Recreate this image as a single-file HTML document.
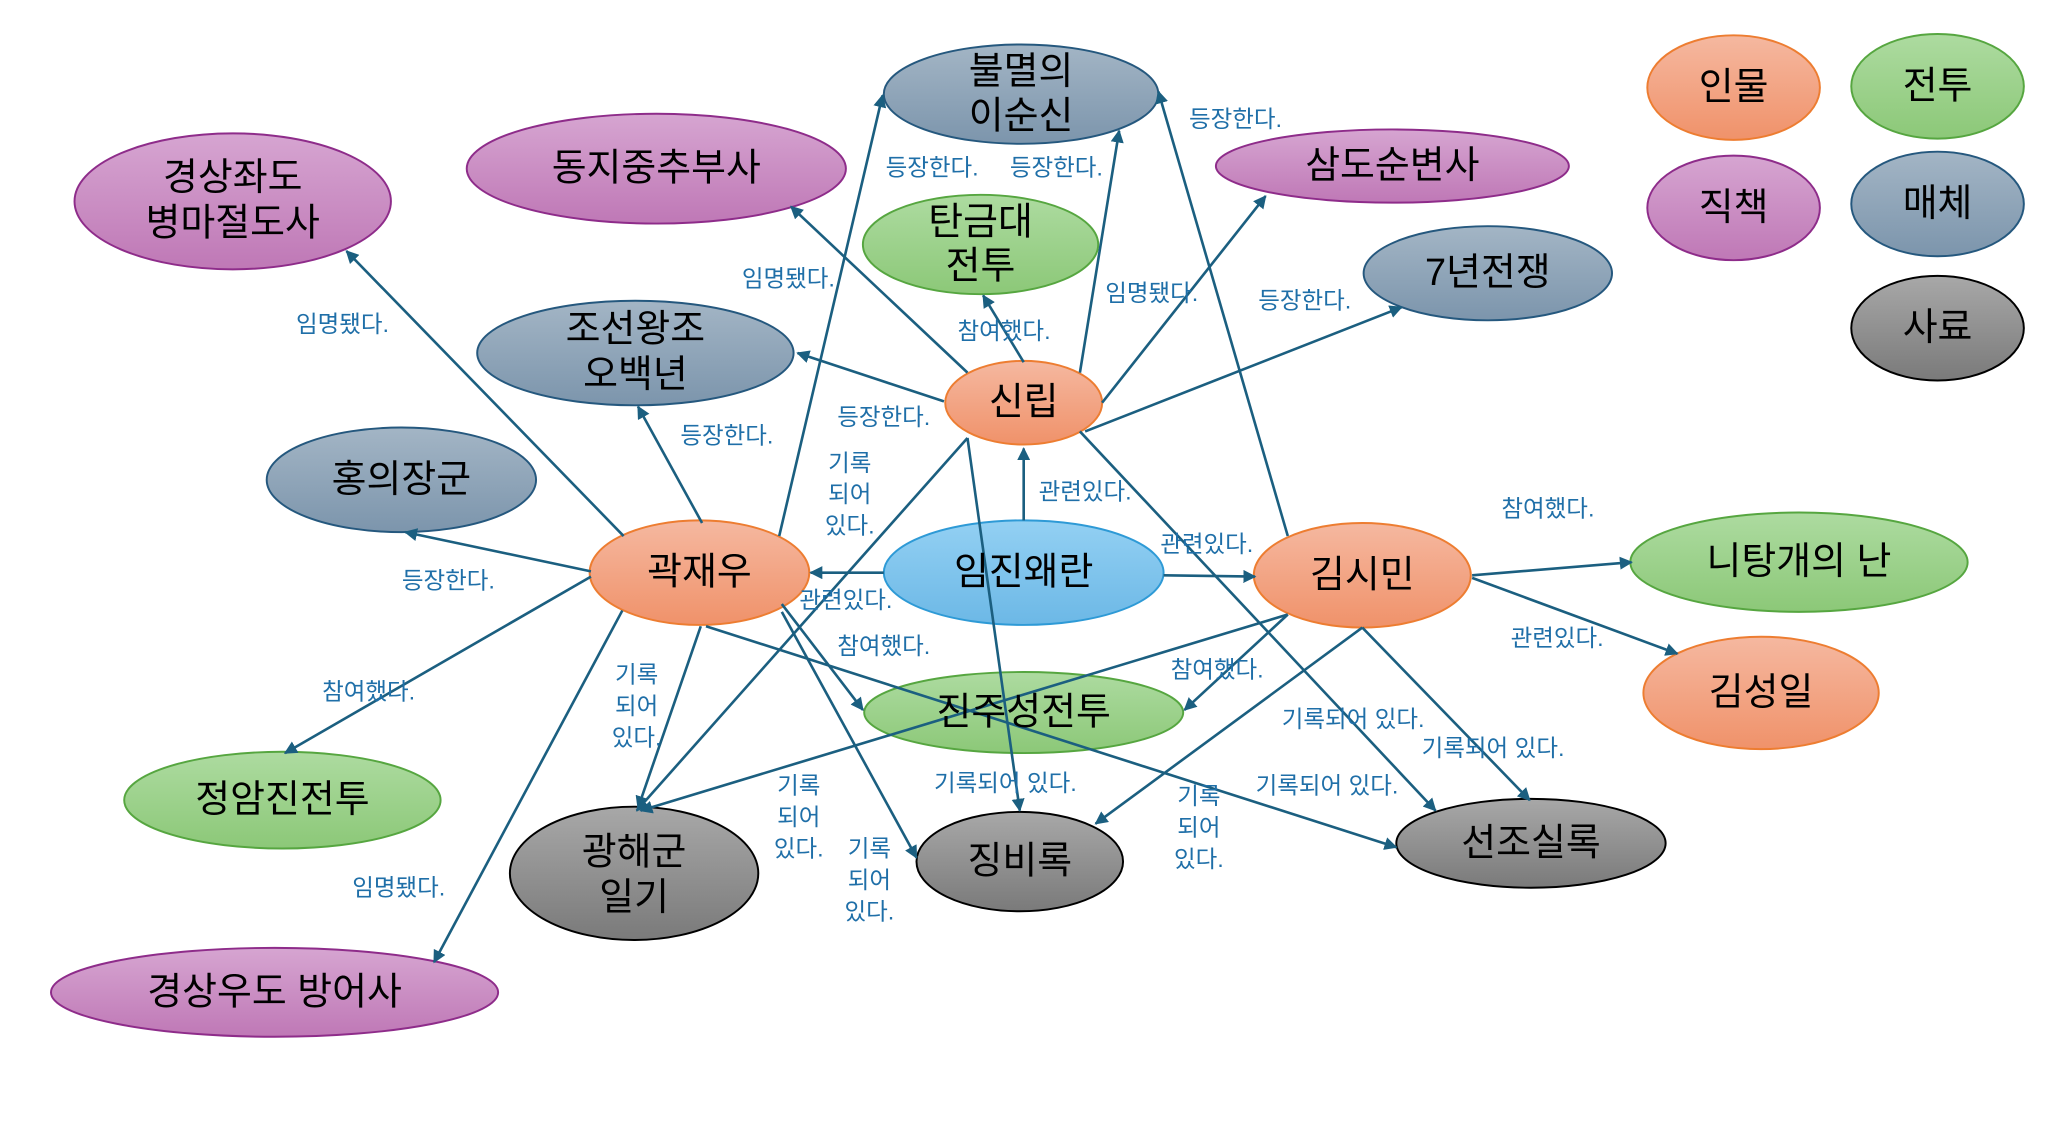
<!DOCTYPE html>
<html><head><meta charset="utf-8"><style>
html,body{margin:0;padding:0;background:#fff;width:2050px;height:1144px;overflow:hidden}
svg{display:block}
.n{font-family:"Liberation Sans","Noto Sans CJK KR",sans-serif;font-size:29px;fill:#000;text-anchor:middle;dominant-baseline:central}
.l{font-family:"Liberation Sans","Noto Sans CJK KR",sans-serif;font-size:18px;fill:#1f6fa8;text-anchor:middle;dominant-baseline:central}
.e{stroke:#1b5f80;stroke-width:2;fill:none;marker-end:url(#a)}
</style></head><body>
<svg width="2050" height="1144" viewBox="0 0 1568 875" xmlns="http://www.w3.org/2000/svg">
<defs>
<marker id="a" viewBox="0 0 10 10" refX="9" refY="5" markerWidth="5" markerHeight="5" orient="auto"><path d="M0,0L10,5L0,10z" fill="#1b5f80"/></marker>
<linearGradient id="go" x1="0" y1="0" x2="0" y2="1"><stop offset="0" stop-color="#f5b8a0"/><stop offset="1" stop-color="#f0926a"/></linearGradient>
<linearGradient id="gg" x1="0" y1="0" x2="0" y2="1"><stop offset="0" stop-color="#addba0"/><stop offset="1" stop-color="#8cc878"/></linearGradient>
<linearGradient id="gp" x1="0" y1="0" x2="0" y2="1"><stop offset="0" stop-color="#d6a5d1"/><stop offset="1" stop-color="#bf78b6"/></linearGradient>
<linearGradient id="gs" x1="0" y1="0" x2="0" y2="1"><stop offset="0" stop-color="#a3b5c5"/><stop offset="1" stop-color="#7c95ac"/></linearGradient>
<linearGradient id="gk" x1="0" y1="0" x2="0" y2="1"><stop offset="0" stop-color="#a8a8a8"/><stop offset="1" stop-color="#7a7a7a"/></linearGradient>
<linearGradient id="gb" x1="0" y1="0" x2="0" y2="1"><stop offset="0" stop-color="#93d0f3"/><stop offset="1" stop-color="#6cb8e6"/></linearGradient>
</defs>

<!-- nodes -->
<g stroke-width="1.5">
<ellipse cx="781" cy="72" rx="105" ry="38" fill="url(#gs)" stroke="#25587e"/>
<ellipse cx="502" cy="129" rx="145" ry="42" fill="url(#gp)" stroke="#8e2c8a"/>
<ellipse cx="178" cy="154" rx="121" ry="52" fill="url(#gp)" stroke="#8e2c8a"/>
<ellipse cx="1065" cy="127" rx="135" ry="28" fill="url(#gp)" stroke="#8e2c8a"/>
<ellipse cx="750" cy="187" rx="90" ry="38" fill="url(#gg)" stroke="#56a640"/>
<ellipse cx="1138" cy="209" rx="95" ry="36" fill="url(#gs)" stroke="#25587e"/>
<ellipse cx="486" cy="270" rx="121" ry="40" fill="url(#gs)" stroke="#25587e"/>
<ellipse cx="783" cy="308" rx="60" ry="32" fill="url(#go)" stroke="#ed7d31"/>
<ellipse cx="307" cy="367" rx="103" ry="40" fill="url(#gs)" stroke="#25587e"/>
<ellipse cx="535" cy="438" rx="84" ry="40" fill="url(#go)" stroke="#ed7d31"/>
<ellipse cx="783" cy="438" rx="107" ry="40" fill="url(#gb)" stroke="#2e9ad6"/>
<ellipse cx="1042" cy="440" rx="83" ry="40" fill="url(#go)" stroke="#ed7d31"/>
<ellipse cx="1376" cy="430" rx="129" ry="38" fill="url(#gg)" stroke="#56a640"/>
<ellipse cx="1347" cy="530" rx="90" ry="43" fill="url(#go)" stroke="#ed7d31"/>
<ellipse cx="783" cy="545" rx="122" ry="31" fill="url(#gg)" stroke="#56a640"/>
<ellipse cx="216" cy="612" rx="121" ry="37" fill="url(#gg)" stroke="#56a640"/>
<ellipse cx="485" cy="668" rx="95" ry="51" fill="url(#gk)" stroke="#000"/>
<ellipse cx="780" cy="659" rx="79" ry="38" fill="url(#gk)" stroke="#000"/>
<ellipse cx="1171" cy="645" rx="103" ry="34" fill="url(#gk)" stroke="#000"/>
<ellipse cx="210" cy="759" rx="171" ry="34" fill="url(#gp)" stroke="#8e2c8a"/>
<ellipse cx="1326" cy="67" rx="66" ry="40" fill="url(#go)" stroke="#ed7d31"/>
<ellipse cx="1482" cy="66" rx="66" ry="40" fill="url(#gg)" stroke="#56a640"/>
<ellipse cx="1326" cy="159" rx="66" ry="40" fill="url(#gp)" stroke="#8e2c8a"/>
<ellipse cx="1482" cy="156" rx="66" ry="40" fill="url(#gs)" stroke="#25587e"/>
<ellipse cx="1482" cy="251" rx="66" ry="40" fill="url(#gk)" stroke="#000"/>
</g>

<!-- edges -->
<line class="e" x1="477" y1="410" x2="265" y2="192"/>
<line class="e" x1="537" y1="400" x2="488" y2="311"/>
<line class="e" x1="452" y1="437" x2="310" y2="407"/>
<line class="e" x1="452" y1="441" x2="218" y2="576"/>
<line class="e" x1="476" y1="467" x2="332" y2="736"/>
<line class="e" x1="596" y1="410" x2="675" y2="73"/>
<line class="e" x1="536" y1="479" x2="488" y2="618"/>
<line class="e" x1="598" y1="468" x2="701" y2="656"/>
<line class="e" x1="540" y1="479" x2="1068" y2="648"/>
<line class="e" x1="598" y1="462" x2="660" y2="543"/>
<line class="e" x1="676" y1="438" x2="620" y2="438"/>
<line class="e" x1="783" y1="398" x2="783" y2="343"/>
<line class="e" x1="890" y1="440" x2="960" y2="441"/>
<line class="e" x1="740" y1="285" x2="605" y2="158"/>
<line class="e" x1="722" y1="307" x2="610" y2="270"/>
<line class="e" x1="783" y1="277" x2="752" y2="226"/>
<line class="e" x1="826" y1="285" x2="856" y2="100"/>
<line class="e" x1="843" y1="308" x2="968" y2="150"/>
<line class="e" x1="830" y1="330" x2="1072" y2="235"/>
<line class="e" x1="740" y1="335" x2="487" y2="620"/>
<line class="e" x1="740" y1="335" x2="780" y2="620"/>
<line class="e" x1="826" y1="330" x2="1098" y2="620"/>
<line class="e" x1="985" y1="410" x2="886" y2="70"/>
<line class="e" x1="1126" y1="440" x2="1248" y2="430"/>
<line class="e" x1="1126" y1="442" x2="1283" y2="500"/>
<line class="e" x1="985" y1="470" x2="906" y2="543"/>
<line class="e" x1="985" y1="470" x2="490" y2="620"/>
<line class="e" x1="1042" y1="480" x2="838" y2="630"/>
<line class="e" x1="1042" y1="480" x2="1170" y2="612"/>

<!-- node labels -->
<text class="n" x="781" y="55">불멸의</text><text class="n" x="781" y="89">이순신</text>
<text class="n" x="502" y="129">동지중추부사</text>
<text class="n" x="178" y="136">경상좌도</text><text class="n" x="178" y="171">병마절도사</text>
<text class="n" x="1065" y="127">삼도순변사</text>
<text class="n" x="750" y="170">탄금대</text><text class="n" x="750" y="204">전투</text>
<text class="n" x="1138" y="209">7년전쟁</text>
<text class="n" x="486" y="252">조선왕조</text><text class="n" x="486" y="287">오백년</text>
<text class="n" x="783" y="308">신립</text>
<text class="n" x="307" y="367">홍의장군</text>
<text class="n" x="535" y="438">곽재우</text>
<text class="n" x="783" y="438">임진왜란</text>
<text class="n" x="1042" y="440">김시민</text>
<text class="n" x="1376" y="430">니탕개의 난</text>
<text class="n" x="1347" y="530">김성일</text>
<text class="n" x="783" y="545">진주성전투</text>
<text class="n" x="216" y="612">정암진전투</text>
<text class="n" x="485" y="652">광해군</text><text class="n" x="485" y="687">일기</text>
<text class="n" x="780" y="659">징비록</text>
<text class="n" x="1171" y="645">선조실록</text>
<text class="n" x="210" y="759">경상우도 방어사</text>
<text class="n" x="1326" y="67">인물</text>
<text class="n" x="1482" y="66">전투</text>
<text class="n" x="1326" y="159">직책</text>
<text class="n" x="1482" y="156">매체</text>
<text class="n" x="1482" y="251">사료</text>

<!-- edge labels -->
<text class="l" x="262" y="248">임명됐다.</text>
<text class="l" x="556" y="333">등장한다.</text>
<text class="l" x="343" y="444">등장한다.</text>
<text class="l" x="282" y="529">참여했다.</text>
<text class="l" x="305" y="679">임명됐다.</text>
<text class="l" x="647" y="459">관련있다.</text>
<text class="l" x="830" y="376">관련있다.</text>
<text class="l" x="923" y="416">관련있다.</text>
<text class="l" x="603" y="213">임명됐다.</text>
<text class="l" x="676" y="319">등장한다.</text>
<text class="l" x="768" y="253">참여했다.</text>
<text class="l" x="713" y="128">등장한다.</text>
<text class="l" x="808" y="128">등장한다.</text>
<text class="l" x="881" y="224">임명됐다.</text>
<text class="l" x="998" y="230">등장한다.</text>
<text class="l" x="945" y="91">등장한다.</text>
<text class="l" x="1184" y="389">참여했다.</text>
<text class="l" x="1191" y="488">관련있다.</text>
<text class="l" x="931" y="512">참여했다.</text>
<text class="l" x="676" y="494">참여했다.</text>
<text class="l" x="769" y="599">기록되어 있다.</text>
<text class="l" x="1035" y="550">기록되어 있다.</text>
<text class="l" x="1142" y="572">기록되어 있다.</text>
<text class="l" x="1015" y="601">기록되어 있다.</text>
<text class="l" x="650" y="354">기록</text><text class="l" x="650" y="378">되어</text><text class="l" x="650" y="402">있다.</text>
<text class="l" x="487" y="516">기록</text><text class="l" x="487" y="540">되어</text><text class="l" x="487" y="564">있다.</text>
<text class="l" x="611" y="601">기록</text><text class="l" x="611" y="625">되어</text><text class="l" x="611" y="649">있다.</text>
<text class="l" x="665" y="649">기록</text><text class="l" x="665" y="673">되어</text><text class="l" x="665" y="697">있다.</text>
<text class="l" x="917" y="609">기록</text><text class="l" x="917" y="633">되어</text><text class="l" x="917" y="657">있다.</text>
</svg>
</body></html>
